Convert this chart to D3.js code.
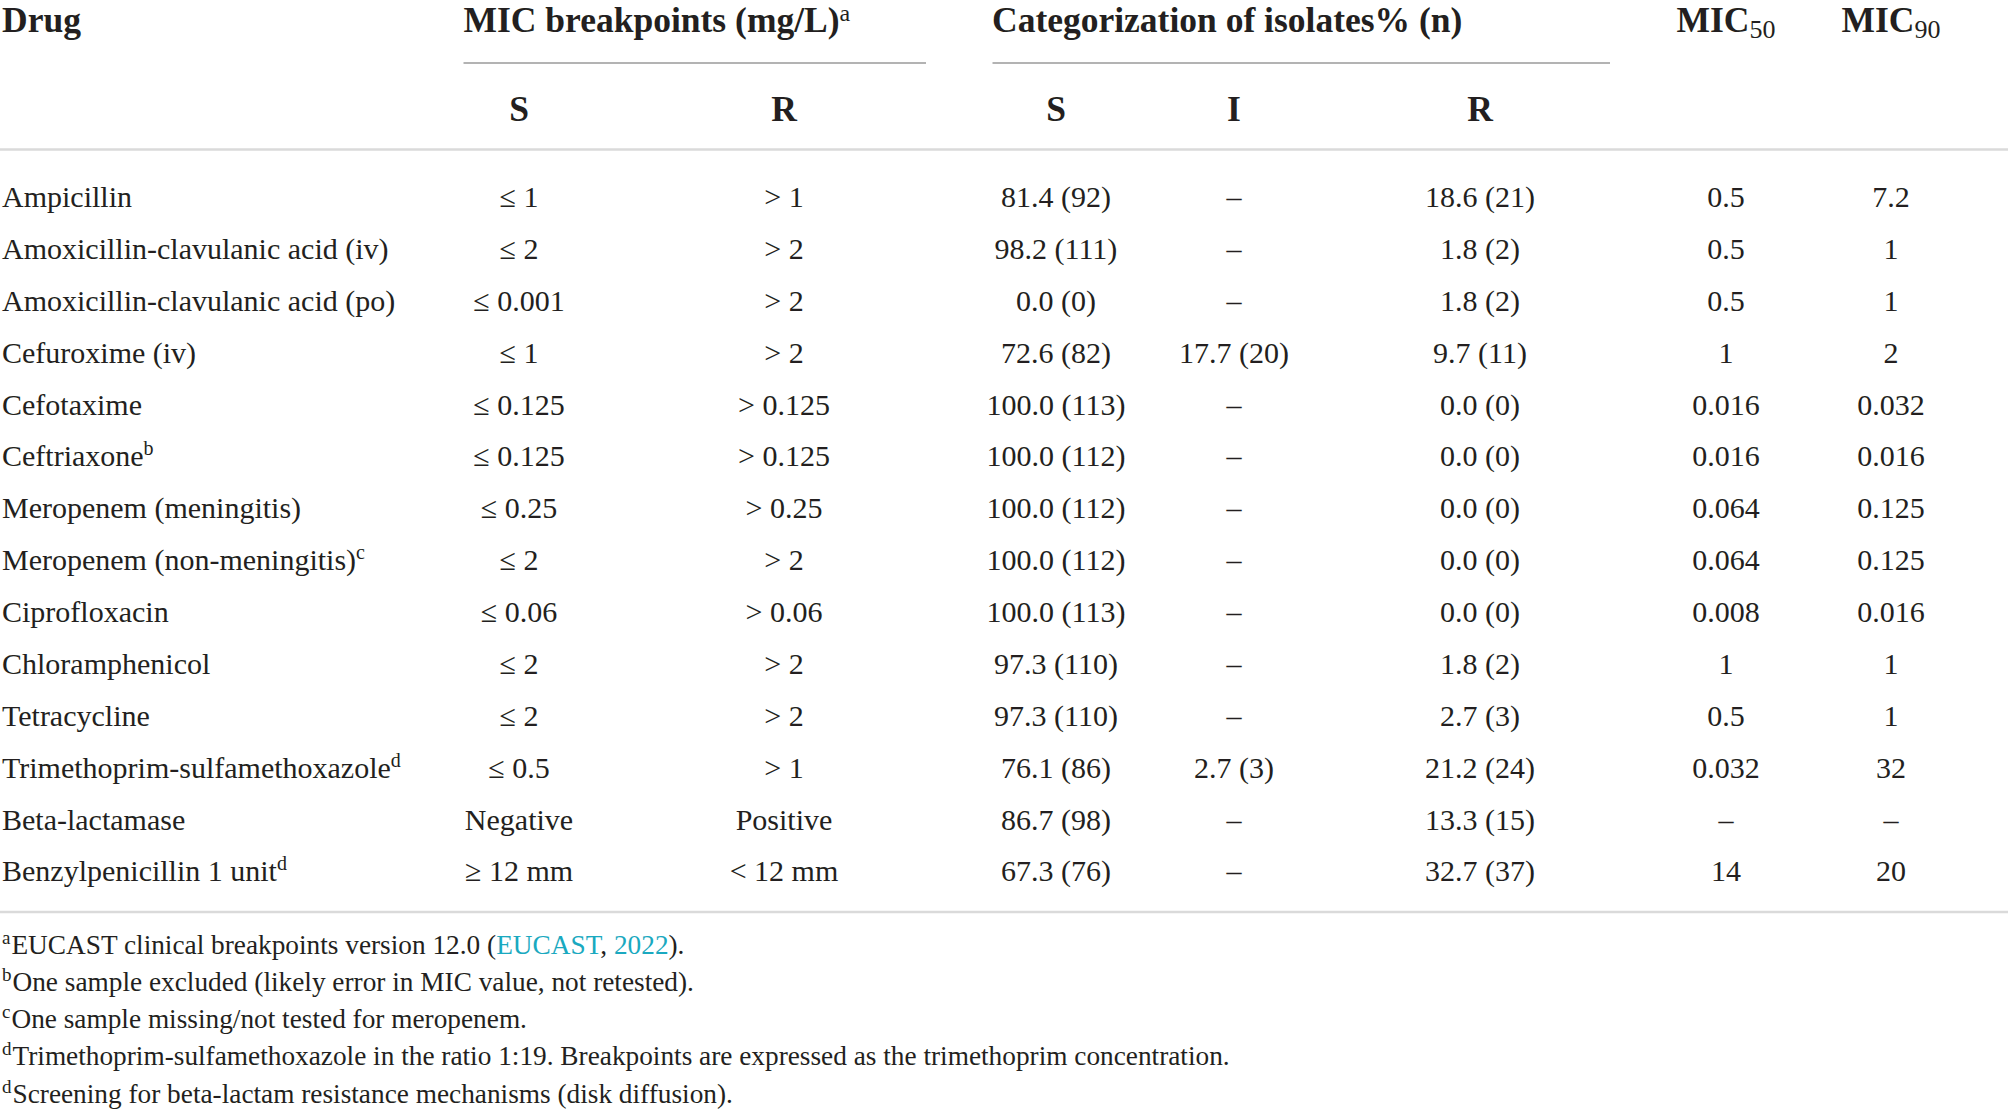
<!DOCTYPE html>
<html><head><meta charset="utf-8">
<script src="https://cdn.jsdelivr.net/npm/d3@7/dist/d3.min.js"></script>
<style>body{margin:0;background:#fff}svg{display:block}</style>
</head><body>
<script>
// ---------- data ----------
const drugs = ["Ampicillin","Amoxicillin-clavulanic acid (iv)","Amoxicillin-clavulanic acid (po)","Cefuroxime (iv)","Cefotaxime","Ceftriaxone","Meropenem (meningitis)","Meropenem (non-meningitis)","Ciprofloxacin","Chloramphenicol","Tetracycline","Trimethoprim-sulfamethoxazole","Beta-lactamase","Benzylpenicillin 1 unit"];
const drugSup = ["","","","","","b","","c","","","","d","","d"];
const bpS = ["≤ 1","≤ 2","≤ 0.001","≤ 1","≤ 0.125","≤ 0.125","≤ 0.25","≤ 2","≤ 0.06","≤ 2","≤ 2","≤ 0.5","Negative","≥ 12 mm"];
const bpR = ["> 1","> 2","> 2","> 2","> 0.125","> 0.125","> 0.25","> 2","> 0.06","> 2","> 2","> 1","Positive","< 12 mm"];
const catS = ["81.4 (92)","98.2 (111)","0.0 (0)","72.6 (82)","100.0 (113)","100.0 (112)","100.0 (112)","100.0 (112)","100.0 (113)","97.3 (110)","97.3 (110)","76.1 (86)","86.7 (98)","67.3 (76)"];
const catI = ["–","–","–","17.7 (20)","–","–","–","–","–","–","–","2.7 (3)","–","–"];
const catR = ["18.6 (21)","1.8 (2)","1.8 (2)","9.7 (11)","0.0 (0)","0.0 (0)","0.0 (0)","0.0 (0)","0.0 (0)","1.8 (2)","2.7 (3)","21.2 (24)","13.3 (15)","32.7 (37)"];
const mic50 = ["0.5","0.5","0.5","1","0.016","0.016","0.064","0.064","0.008","1","0.5","0.032","–","14"];
const mic90 = ["7.2","1","1","2","0.032","0.016","0.125","0.125","0.016","1","1","32","–","20"];
const subHeaders = ["S","R","S","I","R"];
const footSup = ["a","b","c","d","d"];
const footText = [
  [["EUCAST clinical breakpoints version 12.0 (",0],["EUCAST",1],[", ",0],["2022",1],[").",0]],
  [["One sample excluded (likely error in MIC value, not retested).",0]],
  [["One sample missing/not tested for meropenem.",0]],
  [["Trimethoprim-sulfamethoxazole in the ratio 1:19. Breakpoints are expressed as the trimethoprim concentration.",0]],
  [["Screening for beta-lactam resistance mechanisms (disk diffusion).",0]]
];

// ---------- layout ----------
const W = 2008, H = 1110;
const ink = "#231f20", link = "#1aa9c0";
const serif = "'Liberation Serif','Times New Roman',serif";
const bodySize = 30, headSize = 35.5, footSize = 27.3;

const svg = d3.select("body").append("svg").attr("width", W).attr("height", H)
  .style("font-family", serif);

const colKeys = ["bpS","bpR","catS","catI","catR","mic50","mic90"];
const colData = {bpS, bpR, catS, catI, catR, mic50, mic90};
const x = d3.scaleOrdinal().domain(colKeys).range([519, 784, 1056, 1234, 1480, 1726, 1891]);
const y = d3.scalePoint().domain(d3.range(drugs.length)).range([197.2, 871.5]);
const base = v => v + bodySize * 0.33;

// header row
const hy = 32;
const head = svg.append("g").attr("font-weight", "bold").attr("font-size", headSize).attr("fill", ink);
head.append("text").attr("x", 2).attr("y", hy).text("Drug");
const t1 = head.append("text").attr("x", 463.5).attr("y", hy);
t1.append("tspan").text("MIC breakpoints (mg/L)");
t1.append("tspan").attr("dy", -11).attr("font-size", 24).attr("font-weight", "normal").text("a");
head.append("text").attr("x", 992).attr("y", hy).text("Categorization of isolates% (n)");
[["mic50","50"],["mic90","90"]].forEach(([k,s]) => {
  const t = head.append("text").attr("x", x(k)).attr("y", hy).attr("text-anchor", "middle");
  t.append("tspan").text("MIC");
  t.append("tspan").attr("dy", 6).attr("font-size", 26).attr("font-weight", "normal").text(s);
});

// group lines
svg.append("line").attr("x1", 463.5).attr("x2", 926).attr("y1", 63).attr("y2", 63)
  .attr("stroke", "#9a9a9a").attr("stroke-width", 1.6);
svg.append("line").attr("x1", 992.5).attr("x2", 1610).attr("y1", 63).attr("y2", 63)
  .attr("stroke", "#9a9a9a").attr("stroke-width", 1.6);

// sub headers
head.selectAll("text.sub").data(subHeaders).join("text").attr("class", "sub")
  .attr("x", (d, i) => x(colKeys[i])).attr("y", 121).attr("text-anchor", "middle").text(d => d);

// separators
svg.append("line").attr("x1", 0).attr("x2", W).attr("y1", 149.5).attr("y2", 149.5)
  .attr("stroke", "#dadada").attr("stroke-width", 2.5);
svg.append("line").attr("x1", 0).attr("x2", W).attr("y1", 912).attr("y2", 912)
  .attr("stroke", "#dadada").attr("stroke-width", 2.5);

// body
const body = svg.append("g").attr("font-size", bodySize).attr("fill", ink);
const names = body.selectAll("text.drug").data(drugs).join("text").attr("class", "drug")
  .attr("x", 2).attr("y", (d, i) => base(y(i)));
names.append("tspan").text(d => d);
names.append("tspan").attr("dy", -11).attr("font-size", 20).text((d, i) => drugSup[i]);

colKeys.forEach(k => {
  body.selectAll("text." + k).data(colData[k]).join("text").attr("class", k)
    .attr("x", x(k)).attr("y", (d, i) => base(y(i))).attr("text-anchor", "middle").text(d => d);
});

// footnotes
const fy = d3.scalePoint().domain(d3.range(footText.length)).range([945.1, 1093.6]);
const foot = svg.append("g").attr("font-size", footSize).attr("fill", ink);
footText.forEach((parts, i) => {
  const t = foot.append("text").attr("x", 2).attr("y", fy(i) + footSize * 0.33);
  t.append("tspan").attr("font-size", 19).attr("dy", -10).text(footSup[i]);
  parts.forEach(([s, l], j) => {
    const ts = t.append("tspan").attr("fill", l ? link : ink).text(s);
    if (j === 0) ts.attr("dy", 10).attr("dx", 1);
  });
});
</script>
</body></html>
